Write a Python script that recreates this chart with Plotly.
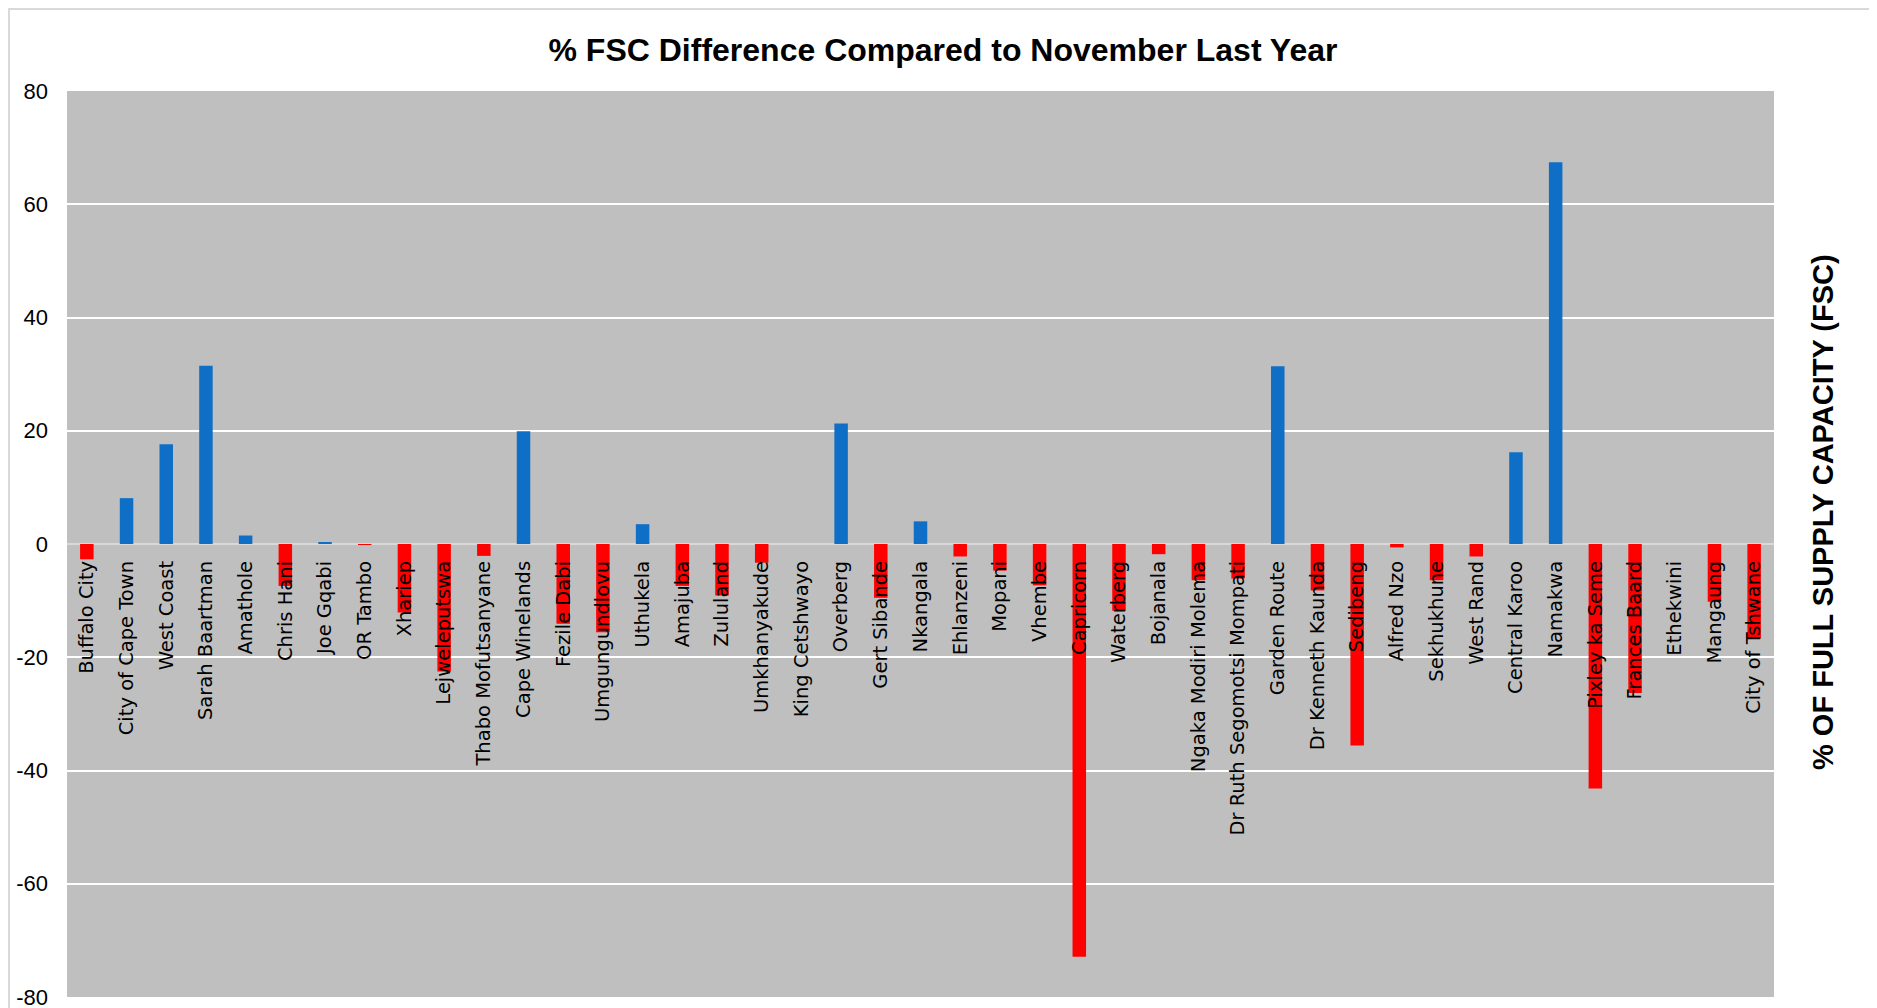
import plotly.graph_objects as go

# ---- data ----
districts = [
    "Buffalo City", "City of Cape Town", "West Coast", "Sarah Baartman", "Amathole",
    "Chris Hani", "Joe Gqabi", "OR Tambo", "Xhariep", "Lejweleputswa",
    "Thabo Mofutsanyane", "Cape Winelands", "Fezile Dabi", "Umgungundlovu", "Uthukela",
    "Amajuba", "Zululand", "Umkhanyakude", "King Cetshwayo", "Overberg",
    "Gert Sibande", "Nkangala", "Ehlanzeni", "Mopani", "Vhembe",
    "Capricorn", "Waterberg", "Bojanala", "Ngaka Modiri Molema", "Dr Ruth Segomotsi Mompati",
    "Garden Route", "Dr Kenneth Kaunda", "Sedibeng", "Alfred Nzo", "Sekhukhune",
    "West Rand", "Central Karoo", "Namakwa", "Pixley ka Seme", "Frances Baard",
    "Ethekwini", "Mangaung", "City of Tshwane",
]
fsc_difference = [
    -2.7, 8.1, 17.6, 31.5, 1.5,
    -7.4, 0.3, -0.1, -12.1, -22.5,
    -2.1, 19.9, -14.1, -15.6, 3.5,
    -7.4, -9.1, -3.3, 0.0, 21.3,
    -9.5, 4.0, -2.2, -4.7, -7.3,
    -72.9, -11.8, -1.8, -6.4, -6.1,
    31.4, -8.2, -35.6, -0.6, -6.4,
    -2.2, 16.2, 67.4, -43.2, -26.3,
    0.0, -10.2, -16.7,
]
y_ticks = [-80, -60, -40, -20, 0, 20, 40, 60, 80]
y_tick_labels = ["-80", "-60", "-40", "-20", "0", "20", "40", "60", "80"]

TITLE = "% FSC Difference Compared to November Last Year"
Y_TITLE = "% OF FULL SUPPLY CAPACITY (FSC)"

POS_COLOR = "#0f6fc6"
NEG_COLOR = "#ff0000"
bar_colors = [POS_COLOR if v >= 0 else NEG_COLOR for v in fsc_difference]

# ---- layout geometry (figure pixels; page body adds an 8px offset) ----
W, H = 1877, 1008
PL, PR, PT, PB = 59, 1766, 83, 989
pw, ph = PR - PL, PB - PT


def px_x(x):
    return (x - PL) / pw


def px_y(y):
    return (PB - y) / ph


fig = go.Figure(
    go.Bar(
        x=districts,
        y=fsc_difference,
        marker=dict(color=bar_colors, line=dict(width=0)),
        hovertemplate="%{x}: %{y}<extra></extra>",
    )
)

fig.update_layout(
    width=W,
    height=H,
    margin=dict(l=PL, r=W - PR, t=PT, b=H - PB, autoexpand=False),
    paper_bgcolor="white",
    plot_bgcolor="#bfbfbf",
    bargap=0.66,
    showlegend=False,
    title=dict(
        text=f"<b>{TITLE}</b>",
        x=935 / W,
        xref="container",
        xanchor="center",
        y=1 - 42 / H,
        yref="container",
        yanchor="middle",
        font=dict(family="Liberation Sans, Arial, sans-serif", size=32, color="black"),
    ),
    xaxis=dict(
        type="category",
        anchor="free",
        position=0.5,
        tickangle=-90,
        showgrid=False,
        showline=False,
        ticks="",
        ticklabelstandoff=12,
        tickfont=dict(family="DejaVu Sans, sans-serif", size=19.5, color="black"),
        automargin=False,
        layer="above traces",
    ),
    yaxis=dict(
        range=[-80, 80],
        tickmode="array",
        tickvals=y_ticks,
        ticktext=y_tick_labels,
        showgrid=True,
        gridcolor="white",
        gridwidth=2,
        zeroline=True,
        zerolinecolor="#d9d9d9",
        zerolinewidth=2,
        showline=False,
        ticks="",
        ticklabelstandoff=18,
        tickfont=dict(family="Liberation Sans, Arial, sans-serif", size=22, color="black"),
        automargin=False,
    ),
    annotations=[
        dict(
            text=f"<b>{Y_TITLE}</b>",
            xref="paper",
            yref="paper",
            x=px_x(1815),
            y=px_y(504),
            xanchor="center",
            yanchor="middle",
            textangle=-90,
            showarrow=False,
            font=dict(family="Liberation Sans, Arial, sans-serif", size=29, color="black"),
        )
    ],
    shapes=[
        dict(type="line", xref="paper", yref="paper",
             x0=px_x(0), x1=px_x(W + 5), y0=px_y(1), y1=px_y(1),
             line=dict(color="#d9d9d9", width=2)),
        dict(type="line", xref="paper", yref="paper",
             x0=px_x(1), x1=px_x(1), y0=px_y(0), y1=px_y(H + 5),
             line=dict(color="#d9d9d9", width=2)),
    ],
)

fig.write_html("out.html")
